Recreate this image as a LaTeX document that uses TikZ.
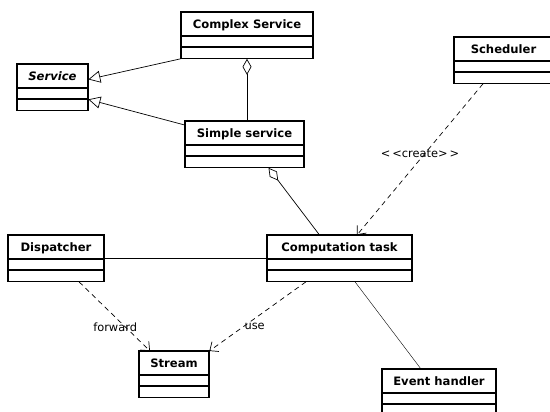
\documentclass[tikz,border=0pt]{standalone}
\usepackage{fontspec}
\setsansfont{DejaVu Sans}
\usetikzlibrary{shapes.multipart,arrows.meta}
\tikzset{
  umlclass/.style={rectangle split, rectangle split parts=3, draw, line width=0.7pt,
    postaction={draw, line width=1.8pt}, anchor=north, inner xsep=0pt, inner ysep=2pt,
    text height=14pt, text depth=5pt, rectangle split empty part height=6.5pt,
    rectangle split empty part depth=0pt,
    font=\sffamily\bfseries\fontsize{11.6}{13}\selectfont},
  lbl/.style={font=\sffamily\fontsize{11.4}{13}\selectfont, inner sep=1pt},
  gen/.style={-{Triangle[open, length=12pt, width=12pt]}, line width=0.7pt},
  agg/.style={{Diamond[open, length=16pt, width=9pt]}-, line width=0.7pt},
  dep/.style={-{Straight Barb[length=7pt, width=12pt]}, dash pattern=on 5pt off 4pt, line width=0.7pt},
}
\begin{document}
\begin{tikzpicture}[x=1pt, y=-1pt]
        \useasboundingbox (0,0) rectangle (550,412);
        \clip (0,0) rectangle (550,412);
        \node[umlclass, minimum width=132pt] (CS) at (247,12) {Complex Service};
        \node[umlclass, minimum width=71pt] (S) at (52.5,64) {\itshape Service};
        \node[umlclass, minimum width=119pt] (SS) at (244.5,121) {Simple service};
        \node[umlclass, minimum width=99pt] (Sch) at (503.5,37) {Scheduler};
        \node[umlclass, minimum width=145pt] (CT) at (339.5,235) {Computation task};
        \node[umlclass, minimum width=96pt] (D) at (56,235) {Dispatcher};
        \node[umlclass, minimum width=70pt] (St) at (174,351) {Stream};
        \node[umlclass, minimum width=114pt] (EH) at (439,369) {Event handler};

        \draw[gen] (CS.south west) -- ([yshift=8pt]S.east);
        \draw[gen] ([yshift=-4pt]SS.north west) -- ([yshift=-12pt]S.east);
        \draw[agg] (CS.south) -- (CS.south |- SS.north);
        \draw[agg] ([xshift=24pt]SS.south) -- ([xshift=-20pt]CT.north);
        \draw[dep] ([xshift=-20.5pt]Sch.south) -- node[lbl, midway, above]{<\,<create>\,>} ([xshift=17.5pt]CT.north);
        \draw (D.east) -- (CT.west);
        \draw[dep] ([xshift=23pt]D.south) -- node[lbl, pos=0.65, xshift=-10pt]{forward} ([xshift=-24pt]St.north);
        \draw[dep] ([xshift=-33.5pt]CT.south) -- node[lbl, pos=0.65, right]{use} (St.north east);
        \draw ([xshift=15.5pt]CT.south) -- ([xshift=-18pt]EH.north);
      \end{tikzpicture}
\end{document}
